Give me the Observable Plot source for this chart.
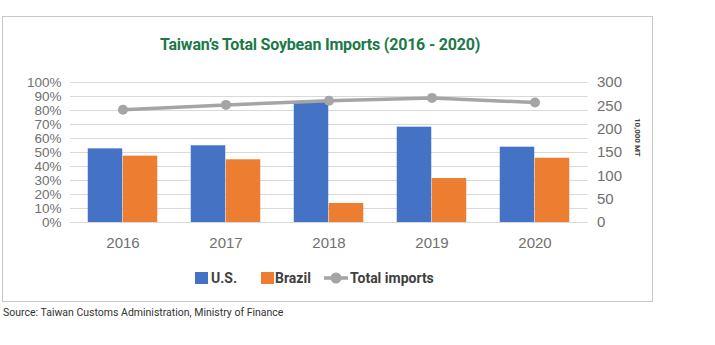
<!DOCTYPE html>
<html>
<head>
<meta charset="utf-8">
<script src="https://cdn.jsdelivr.net/npm/d3@7"></script>
<script src="https://cdn.jsdelivr.net/npm/@observablehq/plot@0.6"></script>
<style>
  html, body { margin: 0; padding: 0; background: #fff; }
  body { width: 715px; height: 345px; position: relative; overflow: hidden; font-family: "Liberation Sans", Arial, sans-serif; }
  #frame { position: absolute; left: 2px; top: 16px; width: 651px; height: 286px; border: 1.5px solid #c8c8c8; box-sizing: border-box; }
  #title { position: absolute; left: 0; width: 640px; top: 35px; text-align: center; font-family: Roboto, sans-serif; font-weight: 700; font-size: 16px; color: #1b7a47; letter-spacing: -0.2px; }
  #chart { position: absolute; left: 0; top: 60px; }
  #unit { position: absolute; left: 633px; top: 118px; writing-mode: vertical-rl; font-family: Roboto, sans-serif; font-weight: 700; font-size: 8px; color: #404040; }
  #legend { position: absolute; top: 269px; left: 0; width: 715px; height: 18px; font-family: Roboto, sans-serif; font-weight: 700; font-size: 14px; color: #404040; }
  .sw { position: absolute; top: 3px; width: 13px; height: 12px; }
  .lt { position: absolute; top: 0px; line-height: 18px; }
  #source { position: absolute; left: 3px; top: 306px; font-family: Roboto, sans-serif; font-size: 10.5px; color: #333; }
</style>
</head>
<body>
<div id="frame"></div>
<div id="title">Taiwan’s Total Soybean Imports (2016 - 2020)</div>
<div id="chart"></div>
<div id="unit">10,000 MT</div>
<div id="legend">
  <div class="sw" style="left:195px;background:#4472c4"></div><div class="lt" style="left:211px">U.S.</div>
  <div class="sw" style="left:261px;background:#ed7d31"></div><div class="lt" style="left:275px">Brazil</div>
  <svg style="position:absolute;left:323px;top:2px" width="26" height="14"><line x1="1" y1="7" x2="25" y2="7" stroke="#a5a5a5" stroke-width="3.5"/><circle cx="13" cy="7" r="5.5" fill="#a5a5a5"/></svg>
  <div class="lt" style="left:350px">Total imports</div>
</div>
<div id="source">Source: Taiwan Customs Administration, Ministry of Finance</div>
<script>
const years = ["2016", "2017", "2018", "2019", "2020"];
const usShare = [0.526, 0.548, 0.857, 0.681, 0.538];
const brazilShare = [0.474, 0.448, 0.136, 0.314, 0.459];
const totalImports = [241.5, 252, 261, 267, 257]; // 10,000 MT
const leftTicks = [0, 0.1, 0.2, 0.3, 0.4, 0.5, 0.6, 0.7, 0.8, 0.9, 1.0];
const rightTicks = [0, 50, 100, 150, 200, 250, 300];
const rightMax = 300;

const usData = years.map((y, i) => ({year: y, v: usShare[i]}));
const brData = years.map((y, i) => ({year: y, v: brazilShare[i]}));
const totData = years.map((y, i) => ({year: y, v: totalImports[i] / rightMax}));

const W = 660, H = 200;
const chart = Plot.plot({
  width: W,
  height: H,
  marginLeft: 70,
  marginRight: 72.5,
  marginTop: 22,
  marginBottom: 38,
  style: {fontFamily: "'Liberation Sans', Arial, sans-serif", fontSize: "15px", color: "#707070", background: "transparent"},
  x: {domain: years, padding: 0, label: null},
  y: {domain: [0, 1], label: null},
  marks: [
    Plot.gridY(leftTicks, {stroke: "#d9d9d9", strokeOpacity: 1, strokeWidth: 1}),
    Plot.barY(usData, {x: "year", y: "v", fill: "#4472c4", insetLeft: 16.75, insetRight: 51.75}),
    Plot.barY(brData, {x: "year", y: "v", fill: "#ed7d31", insetLeft: 51.75, insetRight: 16.75}),
    Plot.line(totData, {x: "year", y: "v", stroke: "#a5a5a5", strokeWidth: 3.5}),
    Plot.dot(totData, {x: "year", y: "v", fill: "#a5a5a5", r: 5}),
    Plot.axisX({tickSize: 0, tickPadding: 14.5, label: null, fontSize: 15}),
    Plot.axisY(leftTicks, {anchor: "left", tickSize: 0, tickPadding: 9, label: null, tickFormat: d => Math.round(d * 100) + "%", fontSize: 13.5}),
    Plot.axisY(rightTicks.map(t => t / rightMax), {anchor: "right", tickSize: 0, tickPadding: 9, label: null, tickFormat: d => String(Math.round(d * rightMax)), fontSize: 15})
  ]
});
document.getElementById("chart").appendChild(chart);
</script>
</body>
</html>
